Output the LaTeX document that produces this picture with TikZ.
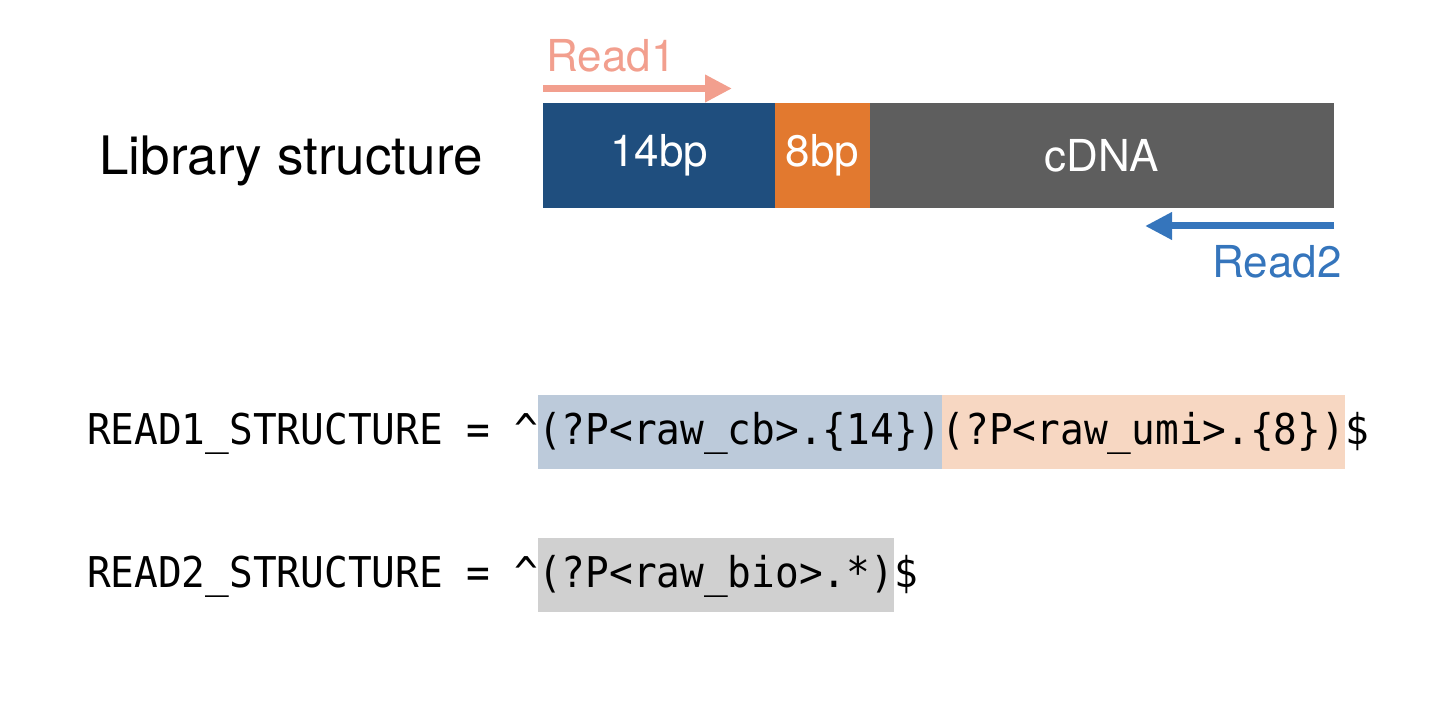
\documentclass[tikz,border=0pt]{standalone}
\usepackage{fontspec}
\setmainfont{TeX Gyre Heros}
\newfontfamily\codefont[FakeStretch=0.93]{DejaVu Sans Mono}
\usepackage{tikz}
\usetikzlibrary{positioning,arrows.meta}

\definecolor{cbblue}{RGB}{31,78,126}
\definecolor{umiorange}{RGB}{226,121,47}
\definecolor{cdnagray}{RGB}{94,94,94}
\definecolor{readone}{RGB}{242,159,142}
\definecolor{readtwo}{RGB}{53,117,188}
\definecolor{cbhl}{RGB}{188,202,218}
\definecolor{umihl}{RGB}{247,215,194}
\definecolor{biohl}{RGB}{208,208,208}

\tikzset{
	block/.style={inner sep=0pt, outer sep=0pt, minimum height=52.5pt, text=white,
		font=\fontsize{22}{26}\selectfont},
	readarrow/.style={line width=3.5pt, -{Triangle[length=13.5pt, width=13pt]}},
	readlabel/.style={inner sep=0pt, font=\fontsize{22}{26}\selectfont},
	code/.style={inner sep=0pt, outer sep=0pt, text height=25pt, text depth=12pt,
		font=\codefont\fontsize{21.2}{25}\selectfont}
}

\begin{document}
\begin{tikzpicture}[x=0.5pt, y=-0.5pt]
		\useasboundingbox (0,0) rectangle (1456,726);
		% library structure
		\node[inner sep=0pt, anchor=base west, font=\fontsize{26.5}{30}\selectfont] (title) at (99,175) {Library structure};
		\node[block, fill=cbblue, minimum width=116pt, anchor=west] (cb) at (543,155.5) {14bp\hspace{10pt}};
		\node[block, fill=umiorange, minimum width=47.5pt, right=0pt of cb] (umi) {8bp};
		\node[block, fill=cdnagray, minimum width=232pt, right=0pt of umi] (cdna) {cDNA};
		% reads
		\coordinate (r1start) at (543,88.5);
		\coordinate (r1end) at (732,88.5);
		\draw[readarrow, draw=readone, fill=readone] (r1start) -- (r1end);
		\node[readlabel, text=readone, anchor=base west] (read1) at (546,72) {Read1};
		\coordinate (r2start) at (1334,226);
		\coordinate (r2end) at (1145,226);
		\draw[readarrow, draw=readtwo, fill=readtwo] (r2start) -- (r2end);
		\node[readlabel, text=readtwo, anchor=base east] (read2) at (1342,278) {Read2};
		% regex
		\node[code, anchor=base west] (pre1) at (87,445) {READ1\_STRUCTURE = \textasciicircum};
		\node[code, fill=cbhl, right=0pt of pre1] (cbre) {(?P<raw\_cb>.\{14\})};
		\node[code, fill=umihl, right=0pt of cbre] (umire) {(?P<raw\_umi>.\{8\})};
		\node[code, right=0pt of umire] (end1) {\$};
		\node[code, anchor=base west] (pre2) at (87,588) {READ2\_STRUCTURE = \textasciicircum};
		\node[code, fill=biohl, right=0pt of pre2] (biore) {(?P<raw\_bio>.*)};
		\node[code, right=0pt of biore] (end2) {\$};
	\end{tikzpicture}
\end{document}
